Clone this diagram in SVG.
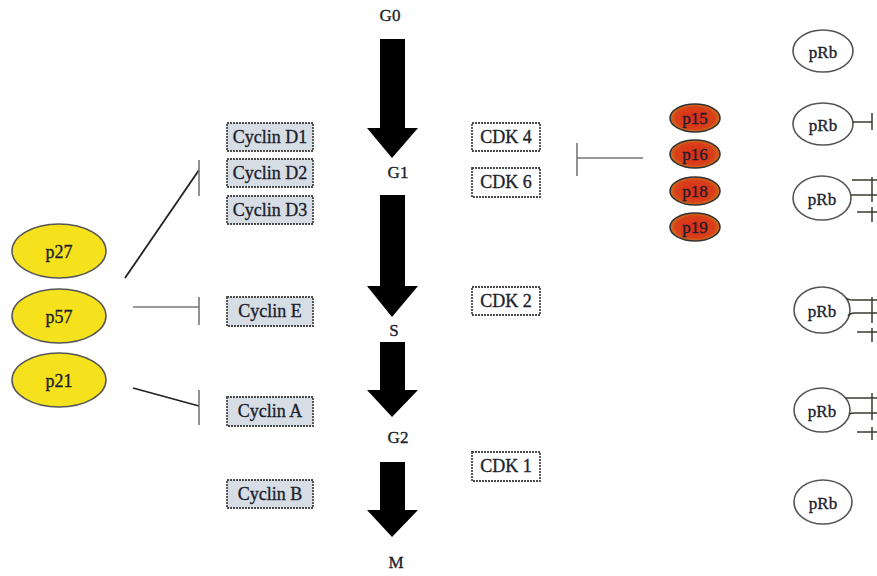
<svg xmlns="http://www.w3.org/2000/svg" width="877" height="576" viewBox="0 0 877 576">
<defs>
<radialGradient id="redg" cx="50%" cy="50%" r="60%">
<stop offset="0" stop-color="#e02a18"/>
<stop offset="0.65" stop-color="#d8401a"/>
<stop offset="1" stop-color="#c8a020"/>
</radialGradient>
<style>
text{font-family:"Liberation Serif","DejaVu Serif",serif;fill:#1c1f2e;text-anchor:middle;dominant-baseline:central;stroke:#1c1f2e;stroke-width:0.35}
.cyc{fill:#d7dde4;stroke:#4a4a4a;stroke-width:1.8;stroke-dasharray:2 1}
.cdk{fill:#ffffff;stroke:#4a4a4a;stroke-width:1.8;stroke-dasharray:2 1}
.lbl{font-size:18px}
.ph{font-size:17px}
.yel{fill:#f6e21c;stroke:#555;stroke-width:1.5}
.red{fill:url(#redg);stroke:#333;stroke-width:1.6}
.prb{fill:#ffffff;stroke:#555;stroke-width:1.6}
.ln{stroke:#222;stroke-width:1.8;fill:none}
.bar{stroke:#777;stroke-width:1.6;fill:none}
.arr{fill:#000}
</style>
</defs>
<rect width="877" height="576" fill="#ffffff"/>

<g id="phases">
<text class="ph" x="390" y="15">G0</text>
<text class="ph" x="398" y="172">G1</text>
<text class="ph" x="394" y="330">S</text>
<text class="ph" x="398" y="437">G2</text>
<text class="ph" x="396" y="562">M</text>
</g>

<g id="cycle-arrows">
<polygon class="arr" points="380,39 405,39 405,128 418,128 392,158 367,128 380,128"/>
<polygon class="arr" points="380,195 405,195 405,286 418,286 392,317 367,286 380,286"/>
<polygon class="arr" points="380,342 405,342 405,390 418,390 392,417 367,390 380,390"/>
<polygon class="arr" points="380,462 405,462 405,510 418,510 392,537 367,510 380,510"/>
</g>

<g id="cyclin-d1"><rect class="cyc" x="227" y="123" width="86" height="28"/><text class="lbl" x="270" y="137">Cyclin D1</text></g>
<g id="cyclin-d2"><rect class="cyc" x="227" y="159" width="86" height="28"/><text class="lbl" x="270" y="173">Cyclin D2</text></g>
<g id="cyclin-d3"><rect class="cyc" x="227" y="196" width="86" height="28"/><text class="lbl" x="270" y="210">Cyclin D3</text></g>
<g id="cyclin-e"><rect class="cyc" x="227" y="297" width="86" height="29"/><text class="lbl" x="270" y="311">Cyclin E</text></g>
<g id="cyclin-a"><rect class="cyc" x="227" y="397" width="86" height="29"/><text class="lbl" x="270" y="411">Cyclin A</text></g>
<g id="cyclin-b"><rect class="cyc" x="227" y="480" width="86" height="28"/><text class="lbl" x="270" y="494">Cyclin  B</text></g>

<g id="cdk4"><rect class="cdk" x="472" y="123" width="68" height="28"/><text class="lbl" x="506" y="137">CDK 4</text></g>
<g id="cdk6"><rect class="cdk" x="472" y="168" width="68" height="29"/><text class="lbl" x="506" y="182">CDK 6</text></g>
<g id="cdk2"><rect class="cdk" x="472" y="287" width="68" height="28"/><text class="lbl" x="506" y="301">CDK 2</text></g>
<g id="cdk1"><rect class="cdk" x="472" y="452" width="68" height="29"/><text class="lbl" x="506" y="466">CDK 1</text></g>

<g id="p27"><ellipse class="yel" cx="59" cy="251" rx="47" ry="27"/><text class="lbl" x="59" y="252">p27</text></g>
<g id="p57"><ellipse class="yel" cx="59" cy="316" rx="47" ry="27"/><text class="lbl" x="59" y="317">p57</text></g>
<g id="p21"><ellipse class="yel" cx="59" cy="380" rx="47" ry="27"/><text class="lbl" x="59" y="381">p21</text></g>

<g id="p15"><ellipse class="red" cx="695" cy="118" rx="25" ry="14"/><text x="695" y="118" font-size="17">p15</text></g>
<g id="p16"><ellipse class="red" cx="695" cy="154" rx="25" ry="14"/><text x="695" y="154" font-size="17">p16</text></g>
<g id="p18"><ellipse class="red" cx="695" cy="191" rx="25" ry="14"/><text x="695" y="191" font-size="17">p18</text></g>
<g id="p19"><ellipse class="red" cx="695" cy="227" rx="25" ry="14"/><text x="695" y="227" font-size="17">p19</text></g>

<g id="prb1"><ellipse class="prb" cx="823" cy="51" rx="30" ry="21"/><text x="823" y="52" font-size="17">pRb</text></g>
<g id="prb2"><ellipse class="prb" cx="823" cy="124" rx="30" ry="21"/><text x="823" y="125" font-size="17">pRb</text></g>
<g id="prb3"><ellipse class="prb" cx="822" cy="198" rx="29" ry="22"/><text x="822" y="199" font-size="17">pRb</text></g>
<g id="prb4"><ellipse class="prb" cx="822" cy="310" rx="28" ry="23"/><text x="822" y="311" font-size="17">pRb</text></g>
<g id="prb5"><ellipse class="prb" cx="822" cy="410" rx="28" ry="22"/><text x="822" y="411" font-size="17">pRb</text></g>
<g id="prb6"><ellipse class="prb" cx="823" cy="502" rx="29" ry="22"/><text x="823" y="503" font-size="17">pRb</text></g>

<g id="connectors">
<line class="ln" x1="125" y1="278" x2="199" y2="170"/>
<line class="bar" x1="199" y1="160" x2="199" y2="196"/>
<line class="bar" x1="133" y1="307" x2="199" y2="307"/>
<line class="bar" x1="199" y1="297" x2="199" y2="325"/>
<line class="ln" x1="133" y1="388" x2="199" y2="406"/>
<line class="bar" x1="199" y1="390" x2="199" y2="425"/>
<line class="bar" x1="577" y1="158" x2="643" y2="158"/>
<line class="bar" x1="577" y1="143" x2="577" y2="176"/>
<g stroke="#3a3a30" stroke-width="1.5" fill="none">
<line x1="853" y1="122" x2="872" y2="122"/><line x1="872" y1="113" x2="872" y2="130"/>
<line x1="852" y1="180" x2="877" y2="180"/><line x1="851" y1="195" x2="877" y2="195"/><line x1="857" y1="212" x2="877" y2="212"/>
<line x1="872" y1="177" x2="872" y2="202"/><line x1="872" y1="207" x2="872" y2="222"/>
<path d="M846,298 Q848,300 853,300 L877,300"/><path d="M848,316 Q850,313 855,313 L877,313"/><line x1="857" y1="332" x2="877" y2="332"/>
<line x1="872" y1="297" x2="872" y2="323"/><line x1="872" y1="328" x2="872" y2="342"/>
<path d="M846,398 Q848,398 853,398 L877,398"/><path d="M849,414 Q851,413 855,413 L877,413"/><line x1="857" y1="432" x2="877" y2="432"/>
<line x1="872" y1="393" x2="872" y2="420"/><line x1="872" y1="427" x2="872" y2="440"/>
</g>
</g>
</svg>
